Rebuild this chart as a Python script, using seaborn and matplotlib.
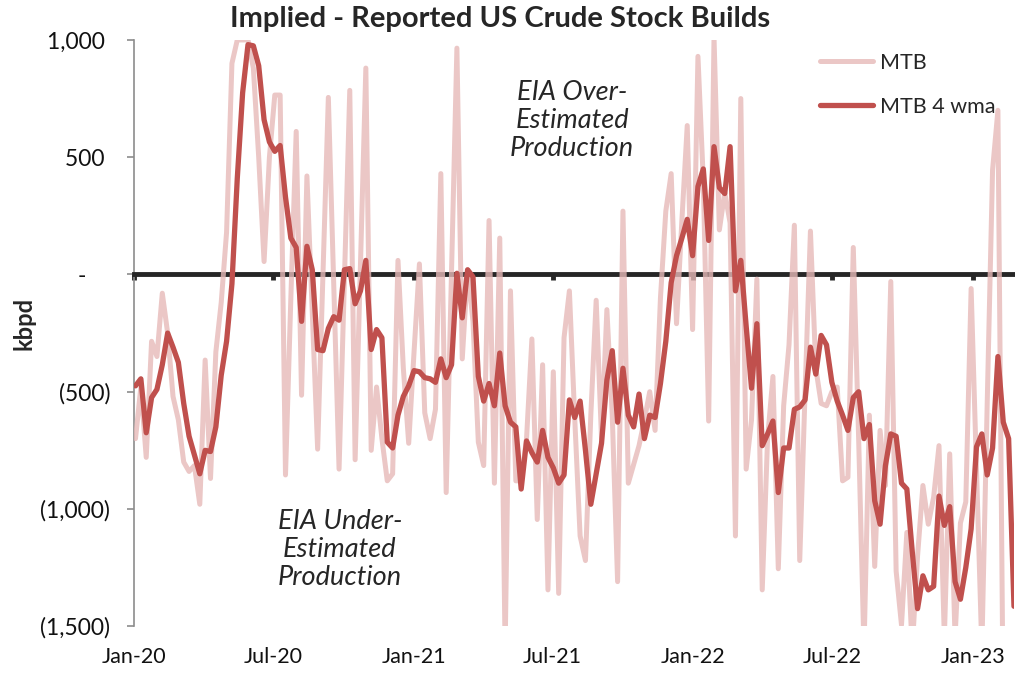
import pandas as pd
import matplotlib
matplotlib.use('Agg')
import matplotlib.pyplot as plt
import matplotlib.dates as mdates
from matplotlib.ticker import FuncFormatter
import seaborn as sns

# weekly implied - reported builds (kbpd)
weeks = pd.date_range('2020-01-03', periods=165, freq='7D')

mtb = [
    -700, -480, -780, -285, -350, -80, -250, -520, -620, -800, -840, -815, -980, -365, -870, -330, -120, 180, 900, 1000, 1000,
    1000, 880, 500, 55, 500, 765, 765, -855, -100, 610, -515, 420, -160, -745, 0, 755, -30, -830, -20, 785, -790, 40, 880, -750, -480,
    -700, -880, -850, 60, -400, -720, -330, 45, -590, -700, -575, 430, -930, 20, 965, -360, 20, -200, -715, -815, 230, -890, 155,
    -1600, -70, -880, -880, -700, -275, -1045, -385, -1345, -415, -1360, -270, -70, -615, -1115, -1220, -600, -110, -700, -150, -600, -1310, 270,
    -890, -810, -730, -620, -500, -665, -100, 270, 430, -210, 230, 635, -235, 930, 400, -625, 1010, 190, 350, 220, -1115, 750, -830, -620,
    -20, -1345, -700, -435, -1255, -560, -300, 210, -1220, -500, 185, -400, -550, -560, -500, -480, -880, -865, 115, -700, -1600, -600,
    -1245, -665, -900, -30, -1265, -1495, -1100, -1600, -1200, -900, -1065, -950, -730, -1550, -765, -1550, -1060, -970, -60, -830, -1600, -550, 445, 700, -1900, -2100, -2200,
]

mtb_4wma = [
    -475, -445, -675, -525, -490, -385, -250, -310, -375, -550, -690, -770, -850, -750, -755, -650, -430, -285, -40, 410, 775,
    980, 975, 890, 660, 565, 525, 550, 330, 155, 115, -200, 120, 20, -320, -325, -230, -180, -195, 20, 25, -125, -70, 60, -320, -235,
    -270, -715, -740, -600, -520, -475, -410, -415, -440, -445, -460, -360, -440, -385, 5, -185, 20, -10, -435, -540, -465, -560, -335,
    -560, -630, -650, -915, -710, -760, -800, -665, -780, -825, -890, -855, -535, -610, -540, -750, -980, -850, -720, -450, -325, -630, -400,
    -600, -650, -510, -700, -600, -610, -465, -285, -35, 80, 155, 235, 80, 375, 450, 145, 545, 370, 345, 545, -70, 60, -220, -485,
    -210, -730, -680, -625, -930, -740, -740, -575, -565, -535, -310, -425, -260, -300, -460, -540, -600, -665, -525, -500, -700, -640,
    -965, -1065, -815, -680, -690, -890, -915, -1180, -1425, -1285, -1345, -1330, -945, -1070, -990, -1310, -1385, -1250, -1085, -735, -680, -855, -740, -350, -630, -700, -1415,
]

df = pd.DataFrame({'week': weeks, 'MTB': mtb, 'MTB 4 wma': mtb_4wma})

sns.set_style('white')
plt.rcParams['font.family'] = ['Lato', 'DejaVu Sans']

fig, ax = plt.subplots(figsize=(10.15, 6.77), dpi=100)
fig.subplots_adjust(left=0.132, right=0.999, bottom=0.075, top=0.941)

sns.lineplot(data=df, x='week', y='MTB', ax=ax, color='#E6B9B8', alpha=0.8,
             lw=3.6, label='MTB', zorder=3)
sns.lineplot(data=df, x='week', y='MTB 4 wma', ax=ax, color='#C0504D',
             lw=3.8, label='MTB 4 wma', zorder=4)

ax.set_ylim(-1500, 1000)
ax.set_yticks(range(-1500, 1001, 500))
ax.set_xlim(pd.Timestamp('2020-01-01'), weeks[-1])

# zero line acts as the x axis, labels sit at the bottom
for s in ['top', 'right']:
    ax.spines[s].set_visible(False)
ax.spines['bottom'].set_position(('data', 0))
ax.spines['bottom'].set_linewidth(3.5)
ax.spines['bottom'].set_color('#262626')
ax.spines['left'].set_color('#8c8c8c')
ax.spines['left'].set_linewidth(1.2)

ax.xaxis.set_major_locator(mdates.MonthLocator(bymonth=(1, 7)))
ax.tick_params(axis='x', bottom=True, direction='out', length=4.5, width=3.5,
               color='#262626', labelbottom=False)

sec = ax.secondary_xaxis('bottom')
sec.xaxis.set_major_locator(mdates.MonthLocator(bymonth=(1, 7)))
sec.xaxis.set_major_formatter(mdates.DateFormatter('%b-%y'))
sec.tick_params(length=0, pad=15, labelsize=15.5, labelcolor='#111111')
sec.spines['bottom'].set_visible(False)


def kfmt(v, pos):
    if v > 0:
        return f'{v:,.0f} '
    if v == 0:
        return '-    '
    return f'({abs(v):,.0f})'


ax.yaxis.set_major_formatter(FuncFormatter(kfmt))
ax.tick_params(axis='y', left=True, direction='out', length=5, width=1.2, color='#8c8c8c',
               pad=12, labelsize=16.5, labelcolor='#111111')

ax.set_xlabel('')
ax.set_ylabel('kbpd', fontweight='bold', fontsize=17)
ax.yaxis.set_label_coords(-0.112, 0.517)

ax.legend(loc='upper left', bbox_to_anchor=(0.779, 0.978), frameon=False, fontsize=15.5,
          handlelength=2.5, handletextpad=0.3, labelspacing=1.1, borderpad=0, borderaxespad=0)

ax.text(0.498, 0.863, 'EIA Over-\nEstimated\nProduction', transform=ax.transAxes,
        ha='center', va='center', style='italic', fontsize=19.5, linespacing=1.15)
ax.text(0.234, 0.131, 'EIA Under-\nEstimated\nProduction', transform=ax.transAxes,
        ha='center', va='center', style='italic', fontsize=19.5, linespacing=1.15)

fig.text(0.493, 0.972, 'Implied - Reported US Crude Stock Builds', ha='center', va='center',
         fontweight='bold', fontsize=21)

fig.savefig('out.png', dpi=100)
